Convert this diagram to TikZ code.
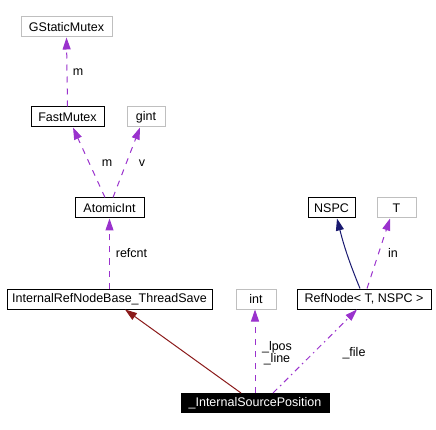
\documentclass[tikz,border=0pt]{standalone}
\usepackage{fontspec}
\setmainfont{Liberation Sans}
\usetikzlibrary{arrows.meta}

\definecolor{usecolor}{HTML}{9A32CD}
\definecolor{basecolor}{HTML}{8B1A1A}
\definecolor{tmplcolor}{HTML}{191970}
\definecolor{extcolor}{HTML}{BFBFBF}

\begin{document}
\begin{tikzpicture}[x = 1pt, y = -1pt,
        font = \fontsize{12.5}{14}\selectfont,
        cls/.style = {draw = black, line width = 1pt, minimum height = 20pt, inner sep = 0pt},
        extcls/.style = {cls, draw = extcolor},
        tip/.style = {-{Triangle[length = 12pt, width = 8pt]}},
        usage/.style = {tip, usecolor, line width = 1pt, dash pattern = on 6pt off 6pt},
        tmpluse/.style = {tip, usecolor, line width = 1pt, dash pattern = on 6pt off 4pt on 1.5pt off 4pt},
        inherit/.style = {tip, basecolor, line width = 1pt},
        inst/.style = {tip, tmplcolor, line width = 1pt},
        lbl/.style = {inner sep = 0pt}]
        \useasboundingbox (0, 0) rectangle (436, 430);

        \node [extcls, minimum width = 91pt] (gstaticmutex) at (66.5, 27) {GStaticMutex};
        \node [cls, minimum width = 73pt] (fastmutex) at (67.5, 117) {FastMutex};
        \node [extcls, minimum width = 38pt] (gint) at (146, 117) {gint};
        \node [cls, minimum width = 69pt] (atomicint) at (109.5, 208) {AtomicInt};
        \node [cls, minimum width = 47pt] (nspc) at (331.5, 208) {NSPC};
        \node [extcls, minimum width = 39pt] (tparam) at (396.5, 208) {T};
        \node [cls, minimum width = 205pt] (refnodebase) at (109.5, 299) {InternalRefNodeBase\_ThreadSave};
        \node [extcls, minimum width = 40pt] (int) at (256, 299) {int};
        \node [cls, minimum width = 134pt] (refnode) at (364, 299) {RefNode< T, NSPC >};
        \node [cls, fill = black, text = white, minimum width = 148pt, minimum height = 19pt] (sourcepos) at (255, 403) {\_InternalSourcePosition};

        % member usage
        \draw [usage] (fastmutex.north) -- (gstaticmutex.south);
        \node [lbl] (lblmutex) at (78, 72) {m};

        \draw [usage] ([xshift = -4.5pt]atomicint.north) -- ([xshift = 5.5pt]fastmutex.south);
        \node [lbl] (lblfast) at (107, 163) {m};
        \draw [usage] ([xshift = 3.5pt]atomicint.north) -- ([xshift = -6pt]gint.south);
        \node [lbl] (lblgint) at (142, 163) {v};

        \draw [usage] (refnodebase.north) -- (atomicint.south);
        \node [lbl] (lblrefcnt) at (131.5, 253) {refcnt};

        % template instance
        \draw [inst] ([xshift = -4pt]refnode.north) to [bend left = 4] ([xshift = 5.5pt]nspc.south);
        \draw [usage] ([xshift = 3pt]refnode.north) -- ([xshift = -6.5pt]tparam.south);
        \node [lbl] (lblin) at (393, 253) {in};

        % source position
        \draw [inherit] ([xshift = -14pt]sourcepos.north) -- ([xshift = 15.5pt]refnodebase.south);
        \draw [usage] (sourcepos.north) -- (int.south -| sourcepos.north);
        \node [lbl, anchor = base] (lbllpos) at (277, 350) {\_lpos};
        \node [lbl, anchor = base] (lblline) at (277, 362.5) {\_line};
        \draw [tmpluse] ([xshift = 18pt]sourcepos.north) -- ([xshift = -7pt]refnode.south);
        \node [lbl, anchor = base] (lblfile) at (354, 356) {\_file};
\end{tikzpicture}
\end{document}
